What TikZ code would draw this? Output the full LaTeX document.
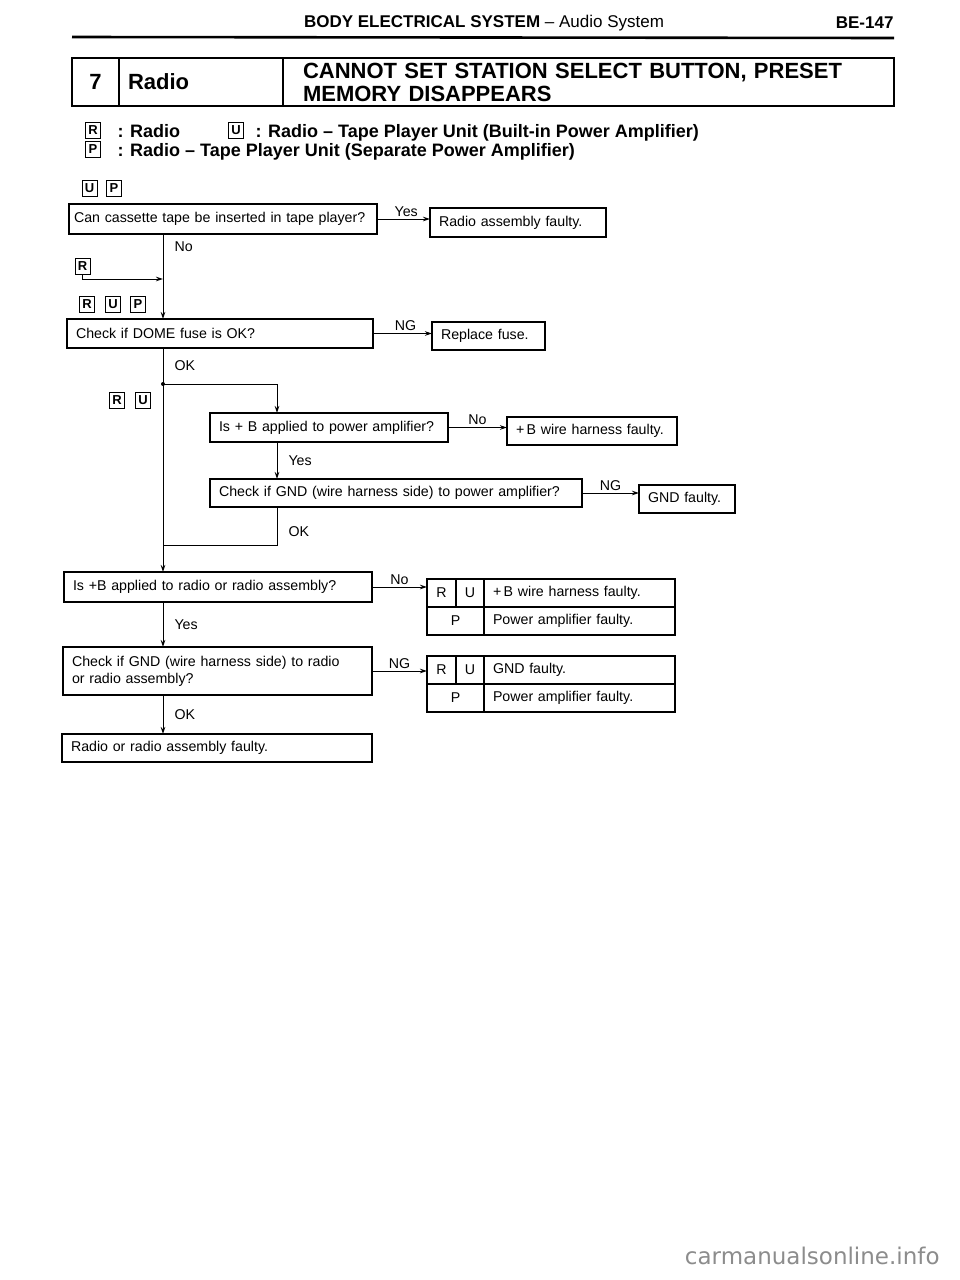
\documentclass[tikz,border=0pt]{standalone}
\usepackage{fontspec}
\setmainfont{Liberation Sans}
\newfontfamily\wmfont{DejaVu Sans}
\usetikzlibrary{arrows.meta,positioning}

\newcommand{\txt}{\fontsize{14.2}{17}\selectfont}

\begin{document}
\begin{tikzpicture}[x=1pt,y=-1pt,>={Stealth[length=7pt,width=4.5pt]},line width=1pt,
  box/.style={draw,line width=1.2pt,outer sep=0pt,anchor=north west,inner xsep=9pt,inner ysep=0pt,align=left,font=\txt,text width=#1},
  cell/.style={draw,line width=1.2pt,outer sep=0pt,anchor=north west,inner sep=0pt,font=\txt,minimum height=28pt},
  tcell/.style={cell,inner xsep=9pt,text width=173pt,align=left},
  head/.style={draw,line width=1.3pt,outer sep=0pt,anchor=north west,inner sep=0pt,minimum height=48pt,font=\bfseries\fontsize{22}{23}\selectfont},
  tag/.style={draw,line width=0.8pt,inner sep=0pt,minimum width=15pt,minimum height=16pt,font=\bfseries\fontsize{13}{13}\selectfont},
  lgd/.style={inner sep=0pt,anchor=base west,font=\bfseries\fontsize{18}{18}\selectfont},
  lbl/.style={inner sep=2pt,font=\txt}]
\useasboundingbox (0,0) rectangle (960,1280);

\node[anchor=base,inner sep=0pt,font=\fontsize{17}{17}\selectfont] (hd) at (484,27) {\textbf{BODY ELECTRICAL SYSTEM} – Audio System};
\node[anchor=base east,inner sep=0pt,font=\bfseries\fontsize{17}{17}\selectfont] (pg) at (894,28) {BE-147};
\draw[line width=2.6pt] (72,37) -- (894,38);

\node[head,minimum width=47pt] (tno) at (72,58) {7};
\node[head,inner xsep=9pt,text width=146pt,align=left] (tname) at (tno.north east) {Radio};
\node[head,inner xsep=20pt,text width=571pt,align=left] (ttl) at (tname.north east) {CANNOT SET STATION SELECT BUTTON, PRESET\\MEMORY DISAPPEARS};

\node[tag] (lgR) at (93,130) {R};
\node[lgd] (lgRt) at (117,137) {: Radio};
\node[tag] (lgU) at (236,130) {U};
\node[lgd] (lgUt) at (255,137) {: Radio – Tape Player Unit (Built-in Power Amplifier)};
\node[tag] (lgP) at (93,149) {P};
\node[lgd] (lgPt) at (117,156) {: Radio – Tape Player Unit (Separate Power Amplifier)};

\node[tag] (tU1) at (89.5,188) {U};
\node[tag] (tP1) at (114,188) {P};
\node[tag] (tR2) at (82.5,266) {R};
\node[tag] (tR3) at (87,304) {R};
\node[tag] (tU3) at (113,304) {U};
\node[tag] (tP3) at (138,304) {P};
\node[tag] (tR4) at (117,400) {R};
\node[tag] (tU4) at (143,400) {U};

\node[box=298pt,inner xsep=5pt,minimum height=30pt] (q1) at (69,204) {Can cassette tape be inserted in tape player?};
\node[box=158pt,minimum height=29pt] (r1) at (430,208) {Radio assembly faulty.};
\node[box=288pt,minimum height=29pt] (q2) at (67,319) {Check if DOME fuse is OK?};
\node[box=95pt,minimum height=28pt] (r2) at (432,322) {Replace fuse.};
\node[box=220pt,minimum height=29pt] (q3) at (210,413) {Is + B applied to power amplifier?};
\node[box=152pt,minimum height=28pt] (r3) at (507,417) {+\,B wire harness faulty.};
\node[box=354pt,minimum height=28pt] (q4) at (210,479) {Check if GND (wire harness side) to power amplifier?};
\node[box=78pt,minimum height=28pt] (r4) at (639,485) {GND faulty.};
\node[box=290pt,minimum height=30pt] (q5) at (64,572) {Is +B applied to radio or radio assembly?};
\node[box=291pt,minimum height=48pt] (q6) at (63,647) {Check if GND (wire harness side) to radio\\or radio assembly?};
\node[box=292pt,minimum height=28pt] (r5) at (62,734) {Radio or radio assembly faulty.};

\node[cell,minimum width=29pt] (t1R) at (427,579) {R};
\node[cell,minimum width=28pt] (t1U) at (t1R.north east) {U};
\node[tcell] (t1a) at (t1U.north east) {+\,B wire harness faulty.};
\node[cell,minimum width=57pt] (t1P) at (t1R.south west) {P};
\node[tcell] (t1b) at (t1P.north east) {Power amplifier faulty.};

\node[cell,minimum width=29pt] (t2R) at (427,656) {R};
\node[cell,minimum width=28pt] (t2U) at (t2R.north east) {U};
\node[tcell] (t2a) at (t2U.north east) {GND faulty.};
\node[cell,minimum width=57pt] (t2P) at (t2R.south west) {P};
\node[tcell] (t2b) at (t2P.north east) {Power amplifier faulty.};

\coordinate (trunk) at (163,0);
\coordinate (branch) at (277,0);
\coordinate (j1) at (163,279);
\coordinate (dot) at (163,384);
\coordinate (j2) at (163,545);

\draw[->] (q1.east) -- node[lbl,above,pos=.55]{Yes} (q1.east -| r1.west);
\draw[->] (q1.south -| trunk) -- node[lbl,right=9pt,pos=.15]{No} (q2.north -| trunk);
\draw[->] (tR2.south) |- (j1);
\draw[->] (q2.east) -- node[lbl,above,pos=.55]{NG} (q2.east -| r2.west);
\draw[->] (q2.south -| trunk) -- node[lbl,right=9pt,pos=.08]{OK} (q5.north -| trunk);
\fill (dot) circle (2pt);
\draw[->] (dot) -| (q3.north -| branch);
\draw[->] (q3.east) -- node[lbl,above]{No} (q3.east -| r3.west);
\draw[->] (q3.south -| branch) -- node[lbl,right=9pt]{Yes} (q4.north -| branch);
\draw[->] (q4.east) -- node[lbl,above]{NG} (q4.east -| r4.west);
\draw (q4.south -| branch) |- node[lbl,right=9pt,pos=.32]{OK} (j2);
\draw[->] (q5.east) -- node[lbl,above]{No} (q5.east -| t1R.west);
\draw[->] (q5.south -| trunk) -- node[lbl,right=9pt]{Yes} (q6.north -| trunk);
\draw[->] (q6.east) -- node[lbl,above]{NG} (q6.east -| t2R.west);
\draw[->] (q6.south -| trunk) -- node[lbl,right=9pt]{OK} (r5.north -| trunk);

\node[anchor=base east,inner sep=0pt,text=black!45,font=\wmfont\fontsize{23}{23}\selectfont] (wm) at (940,1264) {carmanualsonline.info};
\end{tikzpicture}
\end{document}
